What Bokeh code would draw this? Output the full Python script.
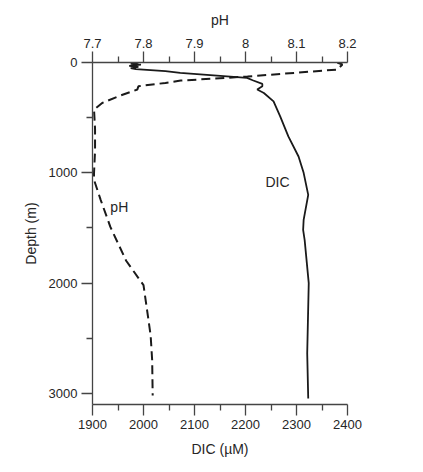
from bokeh.plotting import figure
from bokeh.models import Range1d, LinearAxis, FixedTicker, Label
from bokeh.embed import file_html
from bokeh.resources import INLINE

# DIC profile (µM) vs depth (m)
dic_depth = [0, 10, 20, 30, 40, 50, 60, 79, 94, 139, 161, 194, 215, 245, 276, 352, 488, 670, 852, 1000, 1200, 1427, 1518, 1610, 2000, 2636, 3045]
dic_value = [1990, 1975, 1995, 1972, 1990, 1975, 1985, 2043, 2072, 2203, 2214, 2233, 2233, 2223, 2236, 2255, 2268, 2284, 2304, 2314, 2323, 2314, 2313, 2316, 2324, 2321, 2323]

# pH profile vs depth (m)
ph_depth = [0, 18, 64, 127, 164, 185, 215, 245, 306, 367, 427, 600, 800, 1000, 1064, 1245, 1490, 1797, 2018, 2245, 2473, 2700, 3018]
ph_value = [8.18, 8.19, 8.18, 8.004, 7.873, 7.843, 7.79, 7.788, 7.751, 7.719, 7.703, 7.705, 7.705, 7.703, 7.703, 7.716, 7.735, 7.766, 7.800, 7.807, 7.814, 7.817, 7.818]

dic_ticks = [1900, 2000, 2100, 2200, 2300, 2400]
dic_minor = [1950, 2050, 2150, 2250, 2350]
ph_ticks = [7.7, 7.8, 7.9, 8.0, 8.1, 8.2]
ph_minor = [7.75, 7.85, 7.95, 8.05, 8.15]
depth_ticks = [0, 1000, 2000, 3000]
depth_minor = [500, 1500, 2500]

FONT = "Liberation Sans"
AX = "#444444"
TXT = "#262626"

p = figure(width=415, height=464, output_backend="svg", toolbar_location=None,
           x_range=Range1d(1900, 2400), y_range=Range1d(3100, 0),
           min_border_left=92, min_border_right=68, min_border_top=62, min_border_bottom=60,
           x_axis_location=None, y_axis_location=None)
p.extra_x_ranges = {"ph": Range1d(7.7, 8.2)}
p.outline_line_color = None
p.grid.visible = False
p.background_fill_color = "white"
p.border_fill_color = "white"

bottom = LinearAxis(axis_label="DIC (µM)")
top = LinearAxis(x_range_name="ph", axis_label="pH")
left = LinearAxis(axis_label="Depth (m)")
p.add_layout(bottom, "below")
p.add_layout(top, "above")
p.add_layout(left, "left")

def style(ax, ticks, minor):
    ax.ticker = FixedTicker(ticks=ticks, minor_ticks=minor)
    ax.axis_line_color = AX
    ax.axis_line_width = 1.3
    ax.major_tick_line_color = AX
    ax.major_tick_line_width = 1.3
    ax.minor_tick_line_color = AX
    ax.minor_tick_line_width = 1.3
    ax.major_tick_in = 0
    ax.major_tick_out = 11
    ax.minor_tick_in = 0
    ax.minor_tick_out = 6
    ax.major_label_text_font = FONT
    ax.major_label_text_font_size = "13px"
    ax.major_label_text_color = TXT
    ax.major_label_standoff = 4
    ax.axis_label_text_font = FONT
    ax.axis_label_text_font_size = "14px"
    ax.axis_label_text_font_style = "normal"
    ax.axis_label_text_color = TXT

style(bottom, dic_ticks, dic_minor)
bottom.axis_label_standoff = 9
style(top, ph_ticks, ph_minor)
top.major_label_overrides = {7.7: "7.7", 7.8: "7.8", 7.9: "7.9", 8.0: "8", 8.1: "8.1", 8.2: "8.2"}
top.axis_label_standoff = 8
style(left, depth_ticks, depth_minor)
left.axis_label_standoff = 7
left.major_label_orientation = "horizontal"

p.line(dic_value, dic_depth, line_color="#1a1a1a", line_width=1.8)
p.line(ph_value, ph_depth, x_range_name="ph", line_color="#1a1a1a", line_width=2.0, line_dash="9 5")

p.add_layout(Label(x=2239, y=1082, text="DIC", text_font=FONT, text_font_size="14px",
                   text_color=TXT, text_baseline="middle", text_align="left"))
p.add_layout(Label(x=1935, y=1314, text="pH", text_font=FONT, text_font_size="14px",
                   text_color=TXT, text_baseline="middle", text_align="left"))

open("out.html", "w").write(file_html(p, INLINE))
